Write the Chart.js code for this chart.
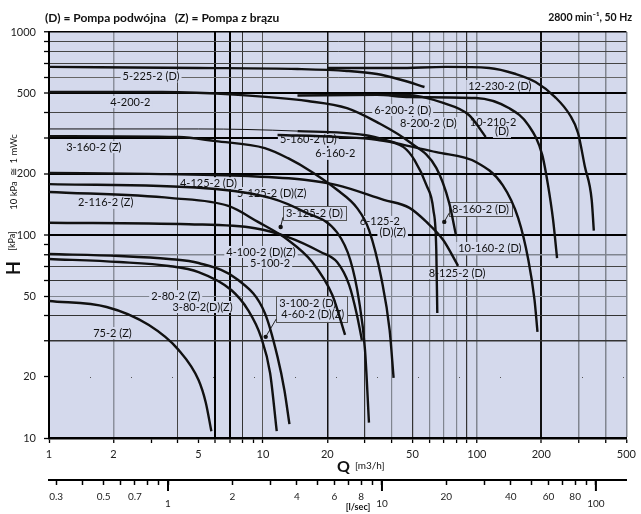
<!DOCTYPE html>
<html>
<head>
<meta charset="utf-8">
<script src="https://cdn.jsdelivr.net/npm/chart.js@4.4.0/dist/chart.umd.min.js"></script>
<style>
  html, body { margin: 0; padding: 0; background: #fff; }
</style>
</head>
<body>
<canvas id="pumpChart" width="641" height="514"></canvas>
<script>
// pump curves, Q in m3/h, H in kPa
const curveNames = ['5-225-2 (D)', '12-230-2 (D)', '4-200-2', '10-210-2 (D)', '8-200-2 (D)',
  '5-160-2 (D)', '6-160-2', '3-160-2 (Z)', '10-160-2 (D)', '4-125-2 (D)', '2-116-2 (Z)',
  '3-125-2 (D)', '3-80-2 (D)(Z)', '2-80-2 (Z)', '75-2 (Z)'];

const q5225 = [1, 5.0, 14.5, 24.7, 34.1, 44.5, 56.9];
const h5225 = [673, 665, 657, 643, 621, 580, 536];
const q12230 = [20, 42.2, 71.9, 114, 152, 188, 232, 272, 297, 320, 344, 352];
const h12230 = [665, 665, 673, 665, 621, 567, 478, 390, 318, 216, 149, 105];
const q4200 = [1, 3.37, 7.66, 16.2, 24.7, 34.1, 48.4, 64.6, 74.2, 80.0];
const h4200 = [506, 506, 490, 457, 422, 360, 287, 214, 144, 98.9];
const q10210 = [20, 46.9, 69.6, 91.8, 110];
const h10210 = [490, 490, 447, 390, 304];
const q8200 = [14.5, 34.1, 48.4, 98.9, 141, 174, 202, 215, 227, 237];
const h8200 = [487, 490, 478, 473, 422, 348, 248, 176, 119, 77.0];
const q5160 = [1, 5.0, 14.5, 29.7, 45.4, 64.6, 98.9, 132, 156, 174, 186, 192];
const h5160 = [333, 333, 325, 311, 278, 256, 229, 176, 121, 75.3, 47.8, 33.3];
const q6160 = [11.7, 22.2, 34.1, 45.4, 51.1, 58.1, 62.6, 64.6, 65.3];
const h6160 = [311, 304, 294, 271, 234, 176, 133, 84.4, 41.3];
const q3160 = [1, 4.04, 6.0, 10.2, 13.1, 17.0, 22.2, 27.5, 31.3, 35.9, 39.1, 40.8];
const h3160 = [307, 304, 290, 268, 239, 204, 167, 136, 106, 60.0, 34.0, 19.8];
const q10160 = [1, 2.93, 8.52, 15.6, 22.2, 36.7, 48.4, 58.1, 69.6, 81.7];
const h10160 = [202, 200, 195, 187, 176, 149, 136, 116, 94.5, 70.4];
const q4125 = [1, 5.39, 10.9, 15.6, 22.2, 25.6, 28.1, 30.0, 31.3];
const h4125 = [178, 170, 152, 130, 103, 75.3, 47.8, 27.1, 11.9];
const q2116 = [1, 3.75, 6.89, 9.48, 13.1, 17.0, 21.1, 24.2];
const h2116 = [163, 152, 139, 116, 94.5, 73.6, 50.6, 32.2];
const q3125 = [1, 4.50, 9.18, 13.1, 18.6, 22.2, 25.3, 27.5, 29.0];
const h3125 = [115, 113, 108, 97.7, 82.5, 73.6, 56.7, 40.4, 30.4];
const q380 = [1, 2.13, 3.63, 5.0, 7.66, 10.2, 11.7, 12.6, 13.3];
const h380 = [80.6, 78.8, 76.2, 72.8, 60.0, 41.3, 25.1, 17.2, 11.7];
const q280 = [1, 2.13, 3.63, 5.0, 7.11, 8.52, 9.79, 10.8, 11.6];
const h280 = [76.2, 73.6, 70.4, 65.7, 53.6, 42.7, 31.5, 20.9, 10.8];
const q752 = [1, 1.86, 2.93, 4.04, 5.0, 5.4, 5.74];
const h752 = [47.3, 44.2, 36.0, 27.1, 19.3, 15, 10.8];

const curveQ = [q5225, q12230, q4200, q10210, q8200, q5160, q6160, q3160, q10160, q4125, q2116, q3125, q380, q280, q752];
const curveH = [h5225, h12230, h4200, h10210, h8200, h5160, h6160, h3160, h10160, h4125, h2116, h3125, h380, h280, h752];

// curve labels on the sheet
const labelTexts = ['5-225-2 (D)', '4-200-2', '3-160-2 (Z)', '5-160-2 (D)', '6-160-2', '4-125-2 (D)',
  '5-125-2 (D)(Z)', '2-116-2 (Z)', '3-125-2 (D)', '4-100-2 (D)(Z)', '5-100-2', '2-80-2 (Z)',
  '3-80-2(D)(Z)', '75-2 (Z)', '3-100-2 (D)', '4-60-2 (D)(Z)', '6-125-2', '(D)(Z)', '8-160-2 (D)',
  '10-160-2 (D)', '8-125-2 (D)', '12-230-2 (D)', '6-200-2 (D)', '8-200-2 (D)', '10-210-2', '(D)'];
const labelQ = [3.0, 2.40, 1.62, 16.3, 21.8, 5.56, 11.0, 1.84, 17.4, 9.79, 10.8, 3.91,
  5.22, 1.98, 16.2, 17.1, 35.2, 40.4, 104, 115, 80.8, 128, 45.0, 59.3, 119, 131];
const labelH = [605, 452, 271, 294, 251, 180, 161, 144, 128, 82.5, 72.8, 50,
  44.2, 32.9, 46.2, 40.4, 116, 103, 134, 86.3, 65.0, 542, 413, 356, 360, 322];
const boxGroups = [[8], [14, 15], [18]];
const dotQ = [12.1, 10.3, 70.4];
const dotH = [109.5, 31.5, 116];

// axis ticks
const qTicks = [1, 2, 3, 4, 5, 6, 7, 8, 9, 10, 20, 30, 40, 50, 60, 70, 80, 90, 100, 200, 300, 400, 500];
const qLabels = [1, 2, 5, 10, 20, 50, 100, 200, 500];
const hTicks = [10, 20, 30, 40, 50, 60, 70, 80, 90, 100, 200, 300, 400, 500, 600, 700, 800, 900, 1000];
const hLabels = [10, 20, 50, 100, 200, 500, 1000];
const lsTicks = [0.3, 0.4, 0.5, 0.6, 0.7, 0.8, 0.9, 1, 2, 3, 4, 5, 6, 7, 8, 9, 10, 20, 30, 40, 50, 60, 70, 80, 90, 100];
const lsLabels = [0.3, 0.5, 0.7, 2, 4, 6, 8, 20, 40, 60, 80];
const lsLowLabels = [1, 10, 100];

const plotBg = '#d4d9ec';
const GREY = '#80858f';
const xGrid = {2: ['#8b909c', 1.5], 4: ['#444', 1], 6: ['#000', 2], 7: ['#000', 2], 8: ['#333', 1],
  10: ['#555', 1], 20: ['#111', 1.5], 30: ['#333', 1.2], 40: [GREY, 1.2], 50: ['#333', 1.2],
  60: [GREY, 1.2], 70: [GREY, 1.2], 80: [GREY, 1.2], 90: ['#333', 1.2], 100: [GREY, 1.5],
  200: ['#111', 2], 300: [GREY, 1.5], 400: [GREY, 1.5], 500: [GREY, 1.5]};
const yGrid = {30: ['#333', 1.5], 40: ['#333', 1], 50: [GREY, 1], 60: ['#333', 1], 70: ['#444', 1],
  80: [GREY, 1.5], 100: ['#000', 2], 200: ['#000', 2], 300: ['#000', 2], 400: ['#444', 1],
  500: ['#000', 2], 600: ['#666', 1], 700: ['#444', 1], 800: ['#444', 1], 900: ['#444', 1], 1000: ['#000', 1.5]};

function gridStyle(map, ctx, k) {
  const v = ctx.tick ? ctx.tick.value : null;
  const s = map[v];
  if (!s) return k === 0 ? 'rgba(0,0,0,0)' : 1;
  return s[k];
}

Chart.defaults.font.family = 'Lato, "Open Sans", sans-serif';

const decor = {
  id: 'decor',
  beforeDraw(chart) {
    const { ctx, chartArea: a } = chart;
    ctx.save();
    ctx.fillStyle = plotBg;
    ctx.fillRect(a.left, a.top, a.right - a.left, a.bottom - a.top);
    // dotted 20 kPa line
    const y20 = Math.round(chart.scales.y.getPixelForValue(20)) + 0.5;
    ctx.strokeStyle = '#555';
    ctx.lineWidth = 1;
    ctx.setLineDash([1, 40]);
    ctx.beginPath();
    ctx.moveTo(a.left, y20);
    ctx.lineTo(a.right, y20);
    ctx.stroke();
    ctx.restore();
  },
  beforeDatasetsDraw(chart) {
    const { ctx } = chart;
    const x = chart.scales.x, y = chart.scales.y;
    ctx.save();
    ctx.font = '11px Lato';
    ctx.textAlign = 'center';
    ctx.textBaseline = 'middle';
    const rects = labelTexts.map((t, i) => {
      const px = x.getPixelForValue(labelQ[i]);
      const py = y.getPixelForValue(labelH[i]);
      const w = ctx.measureText(t).width;
      return { t, px, py, l: px - w / 2 - 2, r: px + w / 2 + 2, top: py - 6, bot: py + 6 };
    });
    ctx.fillStyle = plotBg;
    rects.forEach(r => ctx.fillRect(r.l, r.top, r.r - r.l, r.bot - r.top));
    const boxes = boxGroups.map(g => {
      const l = Math.min(...g.map(i => rects[i].l)) - 1;
      const r = Math.max(...g.map(i => rects[i].r)) + 1;
      const t = Math.min(...g.map(i => rects[i].top)) - 1;
      const b = Math.max(...g.map(i => rects[i].bot)) + 1;
      ctx.fillRect(l, t, r - l, b - t);
      return { l, r, t, b };
    });
    ctx.fillStyle = '#111';
    rects.forEach(r => ctx.fillText(r.t, r.px, r.py));
    ctx.lineWidth = 1;
    boxes.forEach((b, i) => {
      ctx.strokeStyle = '#555';
      ctx.strokeRect(Math.round(b.l) + 0.5, Math.round(b.t) + 0.5, Math.round(b.r - b.l), Math.round(b.b - b.t));
      const dx = x.getPixelForValue(dotQ[i]), dy = y.getPixelForValue(dotH[i]);
      ctx.beginPath();
      ctx.moveTo(b.l, b.b - 3);
      ctx.lineTo(dx, dy);
      ctx.strokeStyle = '#222';
      ctx.stroke();
      ctx.beginPath();
      ctx.arc(dx, dy, 2.2, 0, Math.PI * 2);
      ctx.fillStyle = '#111';
      ctx.fill();
    });
    ctx.restore();
  },
  afterDraw(chart) {
    const { ctx } = chart;
    const x2 = chart.scales.x2;
    ctx.save();
    ctx.fillStyle = '#111';
    ctx.textBaseline = 'middle';
    ctx.font = 'bold 12px Lato';
    ctx.textAlign = 'left';
    ctx.fillText('(D) = Pompa podwójna   (Z) = Pompa z brązu', 45, 18);
    ctx.font = 'bold 10.5px Lato';
    ctx.textAlign = 'right';
    ctx.fillText('2800 min⁻¹, 50 Hz', 632, 18);

    // y title, rotated
    ctx.save();
    ctx.translate(14, 268);
    ctx.rotate(-Math.PI / 2);
    ctx.textAlign = 'center';
    ctx.font = 'bold 18px Lato';
    ctx.fillText('H', 0, 0);
    ctx.font = '9px Lato';
    ctx.fillText('[kPa]', 27, -2);
    ctx.font = '9.5px Lato';
    ctx.fillText('10 kPa  ≅  1 mWc', 96, 0);
    ctx.restore();

    // x titles
    ctx.textAlign = 'left';
    ctx.font = 'bold 16px Lato';
    ctx.fillText('Q', 337, 467);
    ctx.font = '10px Lato';
    ctx.fillText('[m3/h]', 355, 466);
    ctx.font = 'bold 9px Lato';
    ctx.textAlign = 'center';
    ctx.fillText('[l/sec]', 358, 507);

    // longer ticks on the l/sec axis
    ctx.strokeStyle = '#000';
    ctx.lineWidth = 2;
    lsLowLabels.forEach(v => {
      const px = x2.getPixelForValue(v);
      ctx.beginPath();
      ctx.moveTo(px, x2.top);
      ctx.lineTo(px, x2.top + 11);
      ctx.stroke();
    });
    ctx.restore();
  }
};

new Chart(document.getElementById('pumpChart'), {
  type: 'line',
  data: {
    datasets: curveNames.map((name, i) => ({
      label: name,
      data: curveQ[i].map((q, j) => ({ x: q, y: curveH[i][j] })),
      borderColor: '#111',
      borderWidth: 2.4,
      pointRadius: 0,
      cubicInterpolationMode: 'monotone',
      fill: false,
      // the flat start of 5-160-2 is drawn as a thin line on the sheet
      segment: name === '5-160-2 (D)' ? { borderWidth: c => c.p0DataIndex < 2 ? 1 : 2.4 } : undefined
    }))
  },
  options: {
    responsive: false,
    animation: false,
    devicePixelRatio: 1,
    layout: { padding: { top: 32, right: 8, left: 0, bottom: 0 } },
    plugins: { legend: { display: false }, tooltip: { enabled: false } },
    scales: {
      x: {
        type: 'logarithmic',
        position: 'bottom',
        min: 1,
        max: 500,
        weight: 0,
        afterFit: s => { s.height = 42; },
        afterBuildTicks: s => { s.ticks = qTicks.map(v => ({ value: v })); },
        ticks: {
          autoSkip: false, maxRotation: 0, padding: 5, color: '#222',
          font: { size: 11 },
          callback: v => qLabels.includes(v) ? String(v) : ''
        },
        grid: {
          color: c => gridStyle(xGrid, c, 0),
          lineWidth: c => gridStyle(xGrid, c, 1),
          tickLength: 5, tickColor: '#000', tickWidth: 1.3
        },
        border: { display: true, color: '#000', width: 2.5 }
      },
      x2: {
        type: 'logarithmic',
        position: 'bottom',
        axis: 'x',
        min: 1 / 3.6,
        max: 500 / 3.6,
        weight: 1,
        afterFit: s => { s.height = 34; },
        afterBuildTicks: s => { s.ticks = lsTicks.map(v => ({ value: v })); },
        ticks: {
          autoSkip: false, maxRotation: 0, padding: 8, color: '#222',
          font: { size: 10, lineHeight: '7px' },
          callback: v => lsLowLabels.includes(v) ? ['', String(v)] : (lsLabels.includes(v) ? String(v) : '')
        },
        grid: { drawOnChartArea: false, tickLength: 5, tickColor: '#000', tickWidth: 1.5, color: '#000' },
        border: { display: true, color: '#000', width: 2 }
      },
      y: {
        type: 'logarithmic',
        position: 'left',
        min: 10,
        max: 1000,
        afterFit: s => { s.width = 49; },
        afterBuildTicks: s => { s.ticks = hTicks.map(v => ({ value: v })); },
        ticks: {
          autoSkip: false, padding: 8, color: '#222',
          font: { size: 11 },
          callback: v => hLabels.includes(v) ? String(v) : ''
        },
        grid: {
          color: c => gridStyle(yGrid, c, 0),
          lineWidth: c => gridStyle(yGrid, c, 1),
          tickLength: 5, tickColor: '#000', tickWidth: 1.3
        },
        border: { display: true, color: '#000', width: 2 }
      }
    }
  },
  plugins: [decor]
});
</script>
</body>
</html>
